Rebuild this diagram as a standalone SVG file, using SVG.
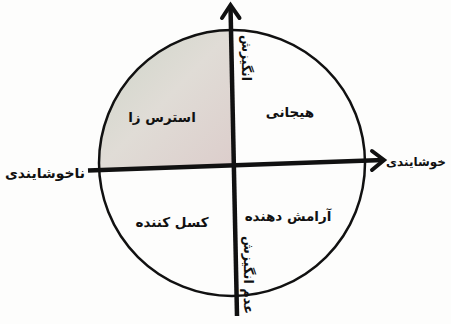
<svg xmlns="http://www.w3.org/2000/svg" width="451" height="324" viewBox="0 0 451 324">
<style>
.lbl{font-family:"DejaVu Sans","Noto Sans",sans-serif;font-weight:bold;font-size:13.5px;fill:#111;text-anchor:middle}
.axis{stroke:#111;stroke-width:4.5;fill:none;stroke-linecap:butt}
.head{stroke:#111;stroke-width:4;fill:none;stroke-linecap:round;stroke-linejoin:miter}
</style>
<defs>
<linearGradient id="shade" x1="0" y1="0" x2="1" y2="1">
<stop offset="0" stop-color="#cdd5c8"/>
<stop offset="0.5" stop-color="#e0dcd6"/>
<stop offset="1" stop-color="#dccdcb"/>
</linearGradient>
</defs>
<rect width="451" height="324" fill="#fdfdfc"/>
<g id="q-stress">
<path d="M233,167 L231,30 A133,133 0 0 0 99,169 Z" fill="url(#shade)"/>
<text class="lbl" x="162" y="122">استرس زا</text>
</g>
<g id="circle">
<circle cx="232" cy="163" r="133" fill="none" stroke="#111" stroke-width="2.5"/>
</g>
<g id="q-excited">
<text class="lbl" x="290" y="117">هیجانی</text>
</g>
<g id="q-bored">
<text class="lbl" x="172" y="227">کسل کننده</text>
</g>
<g id="q-calm">
<text class="lbl" x="288" y="221">آرامش دهنده</text>
</g>
<g id="connectors">
<line class="axis" x1="230.5" y1="6" x2="237" y2="316"/>
<polyline class="head" points="222,18 230.5,5 239.5,18"/>
<line class="axis" x1="88" y1="170.5" x2="383" y2="160"/>
<polyline class="head" points="372,151 384,160 372,170"/>
</g>
<g id="lbl-arousal">
<text class="lbl" transform="translate(242,58) rotate(90)" textLength="46" lengthAdjust="spacingAndGlyphs">انگیزش</text>
</g>
<g id="lbl-no-arousal">
<text class="lbl" transform="translate(244,275) rotate(90)" textLength="78" lengthAdjust="spacingAndGlyphs">عدم انگیزش</text>
</g>
<g id="lbl-unpleasant">
<text class="lbl" x="45" y="178" textLength="80" lengthAdjust="spacingAndGlyphs">ناخوشایندی</text>
</g>
<g id="lbl-pleasant">
<text class="lbl" x="416" y="166" style="font-size:12px">خوشایندی</text>
</g>
</svg>
